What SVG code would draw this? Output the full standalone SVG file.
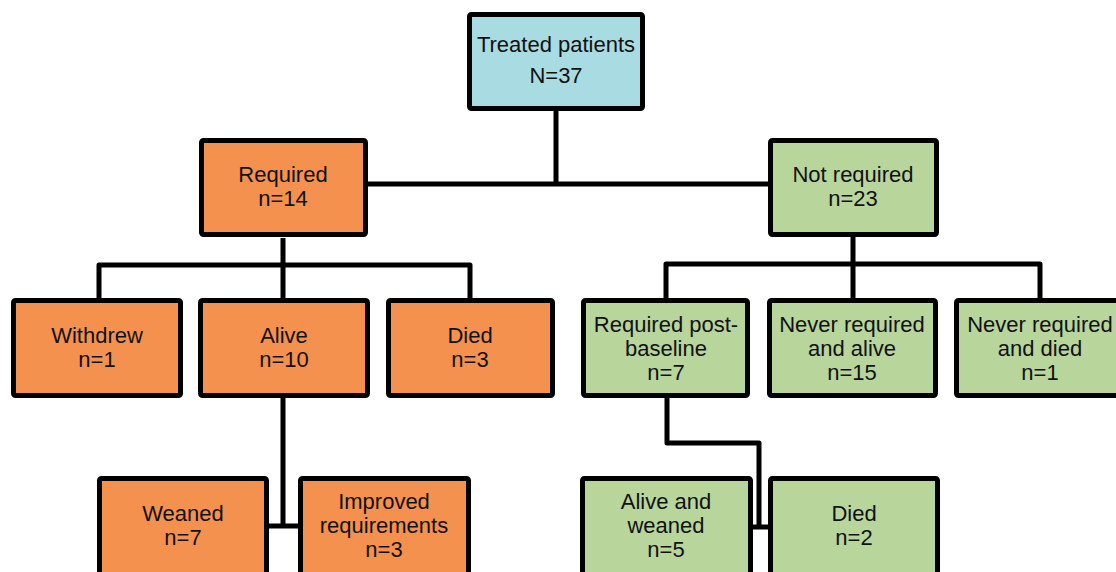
<svg xmlns="http://www.w3.org/2000/svg" width="1116" height="572" viewBox="0 0 1116 572">
<style>
.box{stroke:#000;stroke-width:5;rx:2}
.blue{fill:#a9dbe3}
.orange{fill:#f4914f}
.green{fill:#b8d59c}
.conn{fill:none;stroke:#000;stroke-width:5;stroke-linejoin:round}
text{font-family:"Liberation Sans",Arial,sans-serif;font-size:22px;fill:#111;text-anchor:middle}
</style>
<rect width="1116" height="572" fill="#fff"/>
<g id="connectors">
<path class="conn" d="M556 111 V184 M367 184 H770"/>
<path class="conn" d="M283 238 V298 M99 298 V265 H470 V298"/>
<path class="conn" d="M853 236 V298 M666 298 V264 H1040 V298"/>
<path class="conn" d="M283 398 V526 M269 526 H298"/>
<path class="conn" d="M667 398 V443 H759 V527 M753 527 H768"/>
</g>
<g id="treated"><rect class="box blue" x="469.5" y="14.5" width="173" height="94"/><text x="556" y="52">Treated patients</text><text x="556" y="83">N=37</text></g>
<g id="required"><rect class="box orange" x="201.5" y="140.5" width="164" height="94"/><text x="283" y="182">Required</text><text x="283" y="206">n=14</text></g>
<g id="notrequired"><rect class="box green" x="770.5" y="140.5" width="166" height="94"/><text x="853" y="182">Not required</text><text x="853" y="206">n=23</text></g>
<g id="withdrew"><rect class="box orange" x="13.5" y="300.5" width="167" height="95"/><text x="97" y="343">Withdrew</text><text x="97" y="367">n=1</text></g>
<g id="alive"><rect class="box orange" x="200.5" y="300.5" width="167" height="95"/><text x="284" y="343">Alive</text><text x="284" y="367">n=10</text></g>
<g id="died"><rect class="box orange" x="388.5" y="300.5" width="164" height="95"/><text x="470" y="343">Died</text><text x="470" y="367">n=3</text></g>
<g id="reqpost"><rect class="box green" x="583.5" y="300.5" width="164" height="95"/><text x="666" y="332">Required post-</text><text x="666" y="356">baseline</text><text x="666" y="380">n=7</text></g>
<g id="neveralive"><rect class="box green" x="769.5" y="300.5" width="166" height="95"/><text x="852" y="332">Never required</text><text x="852" y="356">and alive</text><text x="852" y="380">n=15</text></g>
<g id="neverdied"><rect class="box green" x="956.5" y="300.5" width="167" height="95"/><text x="1040" y="332">Never required</text><text x="1040" y="356">and died</text><text x="1040" y="380">n=1</text></g>
<g id="weaned"><rect class="box orange" x="99.5" y="478.5" width="167" height="100"/><text x="183" y="521">Weaned</text><text x="183" y="545">n=7</text></g>
<g id="improved"><rect class="box orange" x="300.5" y="478.5" width="168" height="100"/><text x="384" y="509">Improved</text><text x="384" y="533">requirements</text><text x="384" y="557">n=3</text></g>
<g id="aliveweaned"><rect class="box green" x="582.5" y="478.5" width="168" height="100"/><text x="666" y="509">Alive and</text><text x="666" y="533">weaned</text><text x="666" y="557">n=5</text></g>
<g id="died2"><rect class="box green" x="770.5" y="478.5" width="167" height="100"/><text x="854" y="521">Died</text><text x="854" y="545">n=2</text></g>
</svg>
